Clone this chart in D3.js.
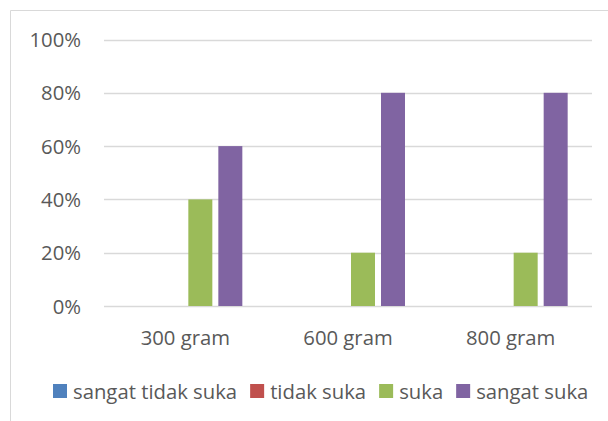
<!DOCTYPE html>
<html><head><meta charset="utf-8">
<script src="https://cdn.jsdelivr.net/npm/d3@7"></script>
<style>
html,body{margin:0;padding:0;background:#fff;overflow:hidden;}
svg{display:block;font-family:"Open Sans",sans-serif;}
</style></head>
<body>
<svg id="chart" width="608" height="421"></svg>
<script>
const categories = ["300 gram", "600 gram", "800 gram"];
const seriesNames = ["sangat tidak suka", "tidak suka", "suka", "sangat suka"];
const sangatTidakSuka = [0, 0, 0];
const tidakSuka = [0, 0, 0];
const suka = [0.4, 0.2, 0.2];
const sangatSuka = [0.6, 0.8, 0.8];
const yTicks = [0, 0.2, 0.4, 0.6, 0.8, 1.0];
const colors = ["#4F81BD", "#C0504D", "#9BBB59", "#8064A2"];

const seriesValues = [sangatTidakSuka, tidakSuka, suka, sangatSuka];
const svg = d3.select("#chart");
const FS = "20.3px";

// chart area border
svg.append("path").attr("d", "M10.5,421 V10.5 H608")
  .attr("fill", "none").attr("stroke", "#d9d9d9").attr("stroke-width", 1);

const plotL = 104, plotR = 592, plotT = 39.5, plotB = 306;
const x = d3.scaleBand().domain(categories).range([plotL, plotR]).paddingInner(0).paddingOuter(0);
const y = d3.scaleLinear().domain([0, 1]).range([plotB, plotT]);

// gridlines
svg.append("g").selectAll("line").data(yTicks).join("line")
  .attr("x1", plotL).attr("x2", plotR)
  .attr("y1", d => Math.round(y(d)) + 0.5).attr("y2", d => Math.round(y(d)) + 0.5)
  .attr("stroke", "#d9d9d9").attr("stroke-width", 1.5);

// y axis labels
const yAxis = d3.axisLeft(y).tickValues(yTicks).tickFormat(d3.format(".0%")).tickSize(0).tickPadding(0);
const gy = svg.append("g").attr("transform", `translate(${81},0)`).call(yAxis);
gy.select(".domain").remove();
gy.selectAll("text").attr("fill", "#595959").style("font-size", FS).style("font-family", "'Open Sans',sans-serif").attr("dy", "0.35em");

// x axis labels
const xAxis = d3.axisBottom(x).tickSize(0).tickPadding(0);
const gx = svg.append("g").attr("transform", `translate(0,${plotB})`).call(xAxis);
gx.select(".domain").remove();
gx.selectAll("text").attr("fill", "#595959").style("font-size", FS).style("font-family", "'Open Sans',sans-serif").attr("dy", "0").attr("y", 39);

// bars
const barW = 24, barStep = 30;
const inner = d3.scaleBand().domain(seriesNames).range([0, barStep * seriesNames.length]);
const groupW = barStep * seriesNames.length - (barStep - barW);
const bars = [];
categories.forEach((c, ci) => {
  seriesValues.forEach((vals, si) => {
    bars.push({cat: c, s: seriesNames[si], v: vals[ci], color: colors[si]});
  });
});
svg.append("g").selectAll("rect").data(bars.filter(d => d.v > 0)).join("rect")
  .attr("x", d => x(d.cat) + x.bandwidth() / 2 - groupW / 2 + inner(d.s))
  .attr("width", barW)
  .attr("y", d => y(d.v))
  .attr("height", d => y(0) - y(d.v))
  .attr("fill", d => d.color);

// legend
const legend = svg.append("g");
let lx = 53;
seriesNames.forEach((name, i) => {
  legend.append("rect").attr("x", lx).attr("y", 384).attr("width", 14).attr("height", 14).attr("fill", colors[i]);
  const t = legend.append("text").attr("x", lx + 20).attr("y", 398.5)
    .attr("fill", "#595959").style("font-size", FS).text(name);
  lx += 20 + t.node().getComputedTextLength() + 13;
});
</script>
</body></html>
